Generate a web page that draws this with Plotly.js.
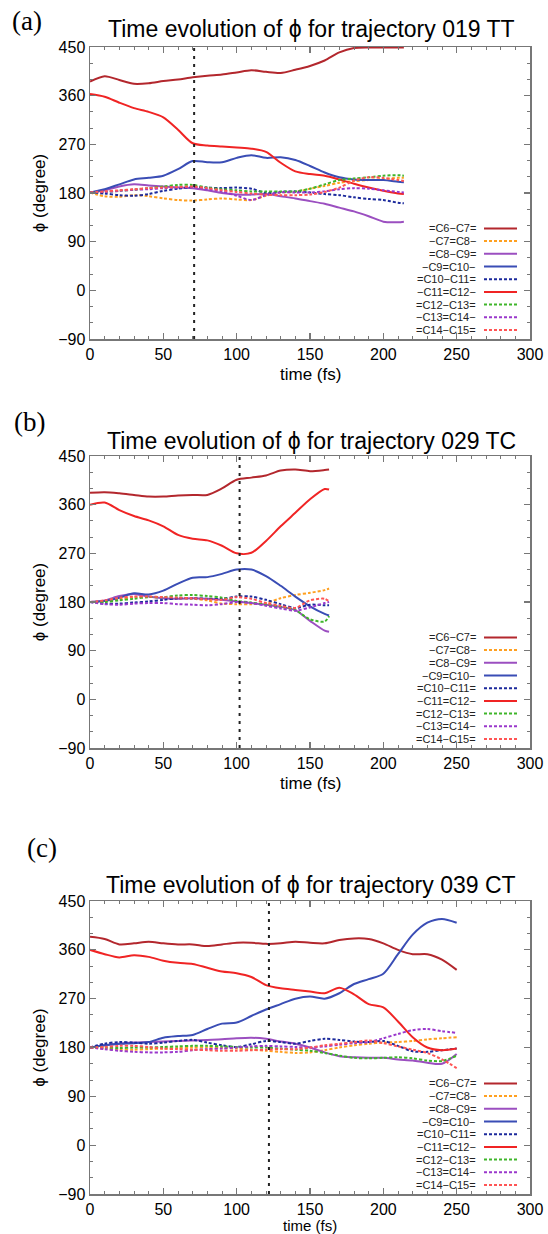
<!DOCTYPE html>
<html>
<head>
<meta charset="utf-8">
<script src="https://cdn.plot.ly/plotly-3.0.1.min.js"></script>
<style>html,body{margin:0;padding:0;background:#fff}#chart{width:548px;height:1234px}</style>
</head>
<body>
<div id="chart"></div>
<script>
// ---------- data ----------
const seriesNames = ['=C6\u2212C7=', '\u2212C7=C8\u2212', '=C8\u2212C9=', '\u2212C9=C10\u2212', '=C10\u2212C11=',
                     '\u2212C11=C12\u2212', '=C12\u2212C13=', '\u2212C13=C14\u2212', '=C14\u2212C15='];
const panelTitles = ['Time evolution of \u03d5 for trajectory 019 TT',
                     'Time evolution of \u03d5 for trajectory 029 TC',
                     'Time evolution of \u03d5 for trajectory 039 CT'];
const panelLetters = ['(a)', '(b)', '(c)'];
const xTitle = 'time (fs)';
const yTitle = '\u03d5 (degree)';
const markerTimes = [71, 102, 122];
const xTickVals = [0, 50, 100, 150, 200, 250, 300];
const yTickVals = [-90, 0, 90, 180, 270, 360, 450];

// panel (a)
const timeA = [0,10,20,30,40,50,60,70,80,90,100,110,120,130,140,150,160,170,180,190,200,210,214];
const a_C6C7   = [386,396,389,382,383,387,390,394,397,399,403,407,404,402,408,415,425,440,448,449,449,449,449];
const a_C7C8   = [181,174,173,176,174,170,167,166,168,170,168,167,175,181,182,188,193,199,202,204,206,208,208];
const a_C8C9   = [181,185,192,196,194,192,190,189,185,180,177,177,178,174,170,165,160,153,146,137,127,126,127];
const a_C9C10  = [181,187,196,205,208,212,224,239,237,237,245,250,245,246,241,230,218,209,205,204,204,201,200];
const a_C10C11 = [181,179,176,175,178,184,188,191,190,189,190,188,180,182,183,181,178,176,172,169,167,162,161];
const a_C11C12 = [363,358,347,337,330,320,297,272,268,266,264,262,256,236,220,215,212,205,197,190,184,179,178];
const a_C12C13 = [181,182,184,186,189,192,195,195,190,187,185,183,183,183,183,188,196,204,207,209,212,213,212];
const a_C13C14 = [181,182,184,186,187,189,190,191,187,183,175,167,176,181,181,181,183,187,189,188,185,182,181];
const a_C14C15 = [181,183,185,187,189,190,191,192,189,185,182,179,177,176,176,177,182,190,203,209,208,204,202];

// panel (b)
const timeB = [0,10,20,30,40,50,60,70,80,90,100,110,120,130,140,150,160,163];
const b_C6C7   = [382,383,381,378,375,375,377,378,378,390,406,410,414,423,425,422,424,425];
const b_C7C8   = [180,181,185,189,190,187,186,186,183,177,176,176,178,187,193,197,202,205];
const b_C8C9   = [180,183,191,195,190,187,186,187,186,184,181,178,175,171,165,145,127,125];
const b_C9C10  = [180,182,188,196,194,201,214,225,226,232,240,240,228,210,190,172,158,155];
const b_C10C11 = [180,177,177,179,181,184,187,187,186,186,190,190,184,176,169,175,174,174];
const b_C11C12 = [360,364,350,339,331,320,304,297,294,284,270,271,293,320,345,370,389,388];
const b_C12C13 = [180,180,183,186,189,189,192,193,191,188,182,179,175,171,165,148,144,154];
const b_C13C14 = [180,176,175,177,178,178,176,175,174,176,180,178,173,168,164,170,178,180];
const b_C14C15 = [180,183,188,190,190,189,188,187,185,184,189,186,178,173,169,183,186,181];

// panel (c)
const timeC = [0,10,20,30,40,50,60,70,80,90,100,110,120,130,140,150,160,170,180,190,200,210,220,230,240,250];
const c_C6C7   = [384,380,370,372,375,372,370,370,367,370,373,373,371,372,375,373,372,378,381,380,372,360,352,352,342,323];
const c_C7C8   = [180,178,176,176,177,178,179,180,180,179,178,176,174,172,170,171,175,180,184,187,189,190,192,195,197,199];
const c_C8C9   = [180,184,187,189,190,191,192,193,194,195,197,198,196,191,187,180,171,164,162,161,161,158,156,152,150,168];
const c_C9C10  = [180,184,187,188,190,198,201,203,214,224,226,238,250,260,270,274,270,280,297,306,316,352,388,410,417,410];
const c_C10C11 = [180,187,190,189,187,189,192,194,189,184,181,186,192,190,187,192,196,194,191,190,192,183,173,172,175,178];
const c_C11C12 = [360,352,346,350,347,340,336,334,327,320,317,310,295,289,286,283,280,290,278,260,254,228,199,180,175,178];
const c_C12C13 = [180,180,179,180,180,181,182,183,183,182,181,180,180,178,176,174,170,165,161,160,161,162,160,156,155,165];
const c_C13C14 = [180,177,174,172,171,171,172,175,177,178,180,182,183,182,181,180,182,185,188,190,197,205,212,214,210,207];
const c_C14C15 = [180,181,183,183,181,178,177,176,175,174,174,175,176,177,177,180,184,187,190,193,188,182,176,170,158,142];

// ---------- styles ----------
const colors = ['#b3272d', '#ffa020', '#9b4fc0', '#3a4db5', '#1c2a9c', '#f02424', '#3fb52a', '#9a38cc', '#ff5555'];
const dashed = [false, true, false, false, true, false, true, true, true];
const DASH = '3px,2px';
const FONT = 'Liberation Sans, Arial, Helvetica, sans-serif';

const panels = [
  {t: timeA, s: [a_C6C7,a_C7C8,a_C8C9,a_C9C10,a_C10C11,a_C11C12,a_C12C13,a_C13C14,a_C14C15]},
  {t: timeB, s: [b_C6C7,b_C7C8,b_C8C9,b_C9C10,b_C10C11,b_C11C12,b_C12C13,b_C13C14,b_C14C15]},
  {t: timeC, s: [c_C6C7,c_C7C8,c_C8C9,c_C9C10,c_C10C11,c_C11C12,c_C12C13,c_C13C14,c_C14C15]}
];

const W = 548, H = 1234;
// plot areas in pixels (top, bottom)
const boxes = [[47, 339], [456, 748], [901, 1194]];
const xLeft = 90, xRight = 530;
const titleY = [29, 441, 885];
const xTitleY = [374, 783, 1225];
const xTitleSize = [17, 17, 15];
const letterPos = [[27, 21], [29, 422], [42, 848]];

const traces = [];
const layout = {
  width: W, height: H,
  margin: {l: 0, r: 0, t: 0, b: 0},
  paper_bgcolor: '#fff', plot_bgcolor: '#fff',
  showlegend: false,
  font: {family: FONT, color: '#000', size: 16},
  annotations: [], shapes: []
};

panels.forEach((p, k) => {
  const sfx = k === 0 ? '' : String(k + 1);
  const xa = 'x' + sfx, ya = 'y' + sfx;
  p.s.forEach((vals, i) => {
    traces.push({
      type: 'scatter', mode: 'lines', x: p.t, y: vals, xaxis: xa, yaxis: ya,
      name: seriesNames[i], showlegend: false,
      line: {color: colors[i], width: 2, dash: dashed[i] ? DASH : 'solid', shape: 'spline', smoothing: 0.8}
    });
  });
  // vertical dotted marker line at the given time
  traces.push({
    type: 'scatter', mode: 'lines', x: [markerTimes[k], markerTimes[k]], y: [-90, 450],
    xaxis: xa, yaxis: ya, showlegend: false, hoverinfo: 'skip',
    line: {color: '#222', width: 2, dash: '3px,5px'}
  });

  const [top, bot] = boxes[k];
  const axCommon = {
    showline: true, linecolor: '#777', linewidth: 1.5, mirror: 'ticks',
    ticks: 'inside', ticklen: 6, tickwidth: 1.2, tickcolor: '#777',
    showgrid: false, zeroline: false, automargin: false,
    tickfont: {family: FONT, size: 16, color: '#000'}
  };
  layout['xaxis' + sfx] = Object.assign({}, axCommon, {
    domain: [xLeft / W, xRight / W], anchor: ya, range: [0, 300],
    tickmode: 'array', tickvals: xTickVals,
    minor: {dtick: 10, ticks: 'inside', ticklen: 3, tickcolor: '#777', tickwidth: 1}
  });
  layout['yaxis' + sfx] = Object.assign({}, axCommon, {
    domain: [1 - bot / H, 1 - top / H], anchor: xa, range: [-90, 450],
    tickmode: 'array', tickvals: yTickVals,
    minor: {dtick: 30, ticks: 'inside', ticklen: 3, tickcolor: '#777', tickwidth: 1},
    title: {text: yTitle, font: {family: FONT, size: 17, color: '#000'}, standoff: 8}
  });

  // x-axis title
  layout.annotations.push({
    xref: 'paper', yref: 'paper', x: 310 / W, y: 1 - xTitleY[k] / H,
    xanchor: 'center', yanchor: 'middle', showarrow: false, borderpad: 0,
    text: xTitle, font: {family: FONT, size: xTitleSize[k], color: '#000'}
  });
  // panel title
  layout.annotations.push({
    xref: 'paper', yref: 'paper', x: 311 / W, y: 1 - titleY[k] / H,
    xanchor: 'center', yanchor: 'middle', showarrow: false,
    text: panelTitles[k], font: {family: FONT, size: 23, color: '#000'}
  });
  // panel letter
  layout.annotations.push({
    xref: 'paper', yref: 'paper', x: letterPos[k][0] / W, y: 1 - letterPos[k][1] / H,
    xanchor: 'center', yanchor: 'middle', showarrow: false,
    text: panelLetters[k], font: {family: 'Liberation Serif, Times New Roman, serif', size: 27, color: '#000'}
  });
  // legend (gnuplot-style: label right-aligned, sample to its right)
  const hpx = bot - top;
  seriesNames.forEach((nm, i) => {
    const yy = (9 + (8 - i) * 12.7) / hpx;
    layout.annotations.push({
      xref: xa + ' domain', yref: ya + ' domain', x: (477 - xLeft) / (xRight - xLeft), y: yy,
      xanchor: 'right', yanchor: 'middle', showarrow: false, borderpad: 0,
      text: nm, font: {family: FONT, size: 11, color: '#222'}
    });
    layout.shapes.push({
      type: 'line', xref: xa + ' domain', yref: ya + ' domain',
      x0: (484 - xLeft) / (xRight - xLeft), x1: (517 - xLeft) / (xRight - xLeft), y0: yy, y1: yy,
      line: {color: colors[i], width: 2, dash: dashed[i] ? DASH : 'solid'}
    });
  });
});

Plotly.newPlot('chart', traces, layout, {staticPlot: true, displayModeBar: false});
</script>
</body>
</html>
